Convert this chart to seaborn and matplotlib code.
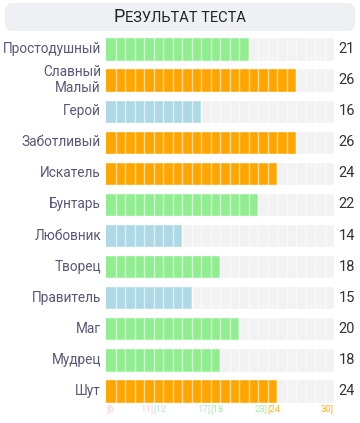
import matplotlib
matplotlib.use("Agg")
import matplotlib.pyplot as plt
import seaborn as sns
import pandas as pd
from matplotlib.patches import FancyBboxPatch
import matplotlib.transforms as mtransforms

# ---- data ----
title_first = "Р"
title_rest = "ЕЗУЛЬТАТ ТЕСТА"
categories = ["Простодушный", "Славный\nМалый", "Герой", "Заботливый", "Искатель",
              "Бунтарь", "Любовник", "Творец", "Правитель", "Маг", "Мудрец", "Шут"]
values = [21, 26, 16, 26, 24, 22, 14, 18, 15, 20, 18, 24]
scale_min, scale_max = 6, 30
range_colors = ["#ffc0cb", "#add8e6", "#90ee90", "#ffa500"]
tick_parts = [("[6", 0, "left"), ("11]", 0, "right"), ("[12", 1, "left"),
              ("17]", 1, "right"), ("[18", 2, "left"), ("23]", 2, "right"),
              ("[24", 3, "left"), ("30]", 3, "right")]
tick_pos = [6, 11, 11, 17, 17, 23, 23, 30]


def color_for(v):
    if v <= 11:
        return range_colors[0]
    if v <= 17:
        return range_colors[1]
    if v <= 23:
        return range_colors[2]
    return range_colors[3]


df = pd.DataFrame({"cat": categories, "val": values, "full": [scale_max] * len(values)})
palette = {c: color_for(v) for c, v in zip(categories, values)}

sns.set_theme(style="white")
plt.rcParams["font.family"] = ["Roboto", "DejaVu Sans"]

W, H = 360, 423
fig = plt.figure(figsize=(W / 100, H / 100), dpi=100)
fig.patch.set_facecolor("white")

# title box
box = FancyBboxPatch((5 / W, (H - 31) / H), 350 / W, 28 / H,
                     boxstyle="round,pad=0,rounding_size=0.02",
                     transform=fig.transFigure, facecolor="#eef0f3",
                     edgecolor="none")
fig.patches.append(box)
renderer = fig.canvas.get_renderer()
base_y = (H - 22) / H
ta = fig.text(0, base_y, title_first, ha="left", va="baseline", fontsize=13, color="#222222")
tb = fig.text(0, base_y, title_rest, ha="left", va="baseline", fontsize=10.5, color="#222222")
wa = ta.get_window_extent(renderer).width
wb = tb.get_window_extent(renderer).width
x0 = (W - (wa + wb + 0.5)) / 2
ta.set_x(x0 / W)
tb.set_x((x0 + wa + 0.5) / W)

ax_left, ax_right = 106, 334
row_top, row_bot = 49, 391
step = (row_bot - row_top) / 11
top_px = row_top - step / 2
bot_px = row_bot + step / 2
ax = fig.add_axes([ax_left / W, (H - bot_px) / H, (ax_right - ax_left) / W, (bot_px - top_px) / H])

bw = 0.75
sns.barplot(data=df, x="full", y="cat", color="#f2f2f2", width=bw, ax=ax,
            orient="h", saturation=1)
sns.barplot(data=df, x="val", y="cat", hue="cat", palette=palette, width=bw,
            ax=ax, orient="h", saturation=1, legend=False)

ax.set_xlim(scale_min, scale_max)
ax.set_ylim(len(categories) - 0.5, -0.5)
ax.vlines(range(scale_min + 1, scale_max), -0.5, len(categories) - 0.5,
          colors="white", linewidth=1.0, alpha=0.6, zorder=5)
for s in ax.spines.values():
    s.set_visible(False)
ax.set_xticks([])
ax.set_yticks([])
ax.set_xlabel("")
ax.set_ylabel("")

# row labels and values
blend = mtransforms.blended_transform_factory(ax.transAxes, ax.transData)
for i, (c, v) in enumerate(zip(categories, values)):
    ax.text(-0.022, i, c, transform=blend, ha="right", va="center",
            multialignment="right", fontsize=9.8, color="#58587a", linespacing=1.2)
    ax.text(1.057, i, str(v), transform=blend, ha="center", va="center",
            fontsize=10.5, color="#333333")

# scale tick labels
ty = len(categories) - 0.5 + (408.5 - bot_px) / step
for (txt, ci, ha), xp in zip(tick_parts, tick_pos):
    ax.text(xp, ty, txt, ha=ha, va="center", fontsize=6.8, color=range_colors[ci],
            alpha=0.85, clip_on=False)

fig.savefig("out.png", dpi=100)
